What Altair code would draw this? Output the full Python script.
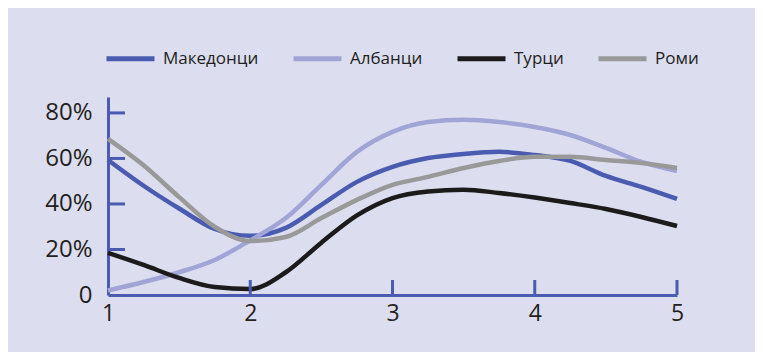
import altair as alt
import pandas as pd

x_vals = [1, 1.25, 1.5, 1.75, 2, 2.25, 2.5, 2.75, 3, 3.25, 3.5, 3.75, 4, 4.25, 4.5, 4.75, 5]
series_names = ["Македонци", "Албанци", "Турци", "Роми"]
makedonci = [59.3, 48, 38, 29, 26, 29.5, 39.6, 49.7, 56.3, 60.2, 62, 62.9, 61.5, 58.9, 52.3, 47.5, 42.2]
albanci = [2, 5.7, 10, 15.4, 24, 33.8, 48.4, 62.9, 71.7, 76, 77, 76, 73.8, 70.3, 64.6, 58.5, 54.5]
turci = [18.5, 13.2, 7.5, 3.5, 2.6, 10, 23, 35, 42.6, 45.5, 46.3, 44.8, 42.8, 40.4, 37.8, 34.3, 30.3]
romi = [68.6, 57, 43, 30, 23.7, 25.5, 33.8, 41.8, 48.4, 51.9, 55.8, 58.9, 60.7, 60.7, 59.3, 58, 55.8]
colors = ["#4a5bb0", "#a1a5d6", "#1c1a1a", "#999999"]

y_tick_vals = [20, 40, 60, 80]
x_tick_vals = [2, 3, 4, 5]
y_labels = [0, 20, 40, 60, 80]
x_labels = [1, 2, 3, 4, 5]

rows = []
for name, vals in zip(series_names, [makedonci, albanci, turci, romi]):
    for xv, yv in zip(x_vals, vals):
        rows.append({"x": xv, "pct": yv, "group": name})
df = pd.DataFrame(rows)

AXIS_COLOR = "#4a5bb0"
FONT = "Open Sans"
W, H = 569, 198

xscale = alt.Scale(domain=[1, 5], nice=False, zero=False)
yscale = alt.Scale(domain=[0, 87], nice=False)

x_axis = alt.Axis(values=x_labels, format="d", title=None, ticks=False, grid=False,
                  domainColor=AXIS_COLOR, domainWidth=3, labelFontSize=23,
                  labelFont=FONT, labelColor="#231f20", labelPadding=7, labelFlush=False)
y_axis = alt.Axis(values=y_labels, title=None, ticks=False, grid=False,
                  labelExpr="datum.value == 0 ? '0' : datum.value + '%'",
                  domainColor=AXIS_COLOR, domainWidth=3, labelFontSize=24,
                  labelFont=FONT, labelColor="#231f20", labelPadding=16, labelFlush=False)

lines = alt.Chart(df).mark_line(strokeWidth=4.5, interpolate="monotone").encode(
    x=alt.X("x:Q", scale=xscale, axis=x_axis),
    y=alt.Y("pct:Q", scale=yscale, axis=y_axis),
    color=alt.Color("group:N", sort=series_names,
                    scale=alt.Scale(domain=series_names, range=colors),
                    legend=alt.Legend(title=None, orient="none", legendX=-4, legendY=-65,
                                      direction="horizontal", symbolType="stroke",
                                      symbolSize=2304, symbolStrokeWidth=5,
                                      labelFontSize=17, labelFont=FONT, labelColor="#231f20",
                                      labelOffset=6, columnPadding=24, padding=0)),
    order=alt.Order("x:Q"),
)

yticks = alt.Chart(pd.DataFrame({"v": y_tick_vals})).mark_rule(
    color=AXIS_COLOR, strokeWidth=3).encode(
    y=alt.Y("v:Q", scale=yscale, axis=y_axis),
    x=alt.value(0), x2=alt.value(17))

xticks = alt.Chart(pd.DataFrame({"v": x_tick_vals})).mark_rule(
    color=AXIS_COLOR, strokeWidth=3).encode(
    x=alt.X("v:Q", scale=xscale, axis=x_axis),
    y=alt.value(H), y2=alt.value(H - 15))

chart = alt.layer(lines, yticks, xticks).properties(
    width=W, height=H,
    background="#dcdef0",
    padding={"left": 100, "top": 89, "right": 78, "bottom": 57},
    autosize=alt.AutoSizeParams(type="none"),
).configure_view(stroke=None)

chart.save("out.html", embed_options={"renderer": "svg", "actions": False})
